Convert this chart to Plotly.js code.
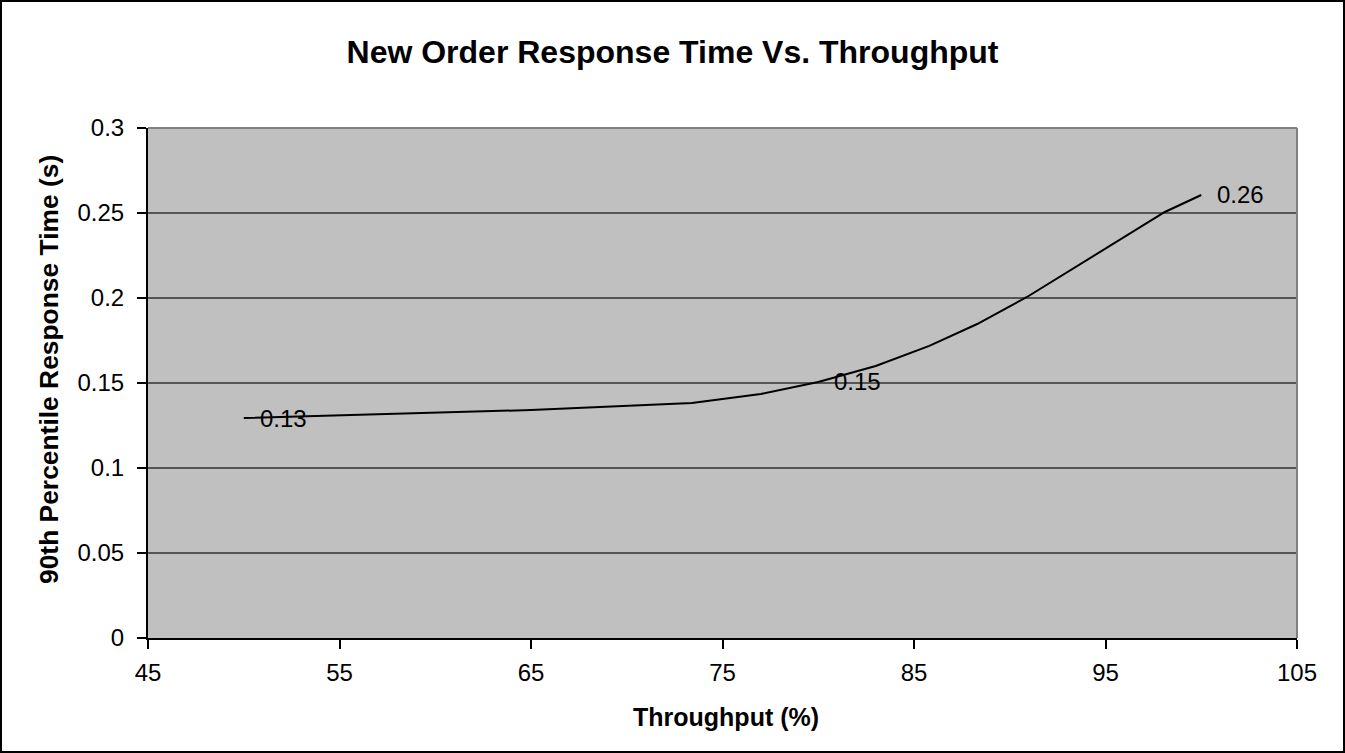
<!DOCTYPE html>
<html>
<head>
<meta charset="utf-8">
<script src="https://cdn.plot.ly/plotly-3.0.1.min.js"></script>
<style>
  html, body { margin: 0; padding: 0; background: #ffffff; }
  #chart { position: absolute; left: 0; top: 0; width: 1345px; height: 753px; }
  #frame { position: absolute; left: 0; top: 0; width: 1345px; height: 753px; box-sizing: border-box; border: 2px solid #000; pointer-events: none; }
</style>
</head>
<body>
<div id="chart"></div>
<div id="frame"></div>
<script>
// Data
const throughput = [50, 65, 73.4, 77, 80, 83, 85.8, 88.3, 90.9, 98.1, 100];
const responseTime = [0.1294, 0.1341, 0.1382, 0.1435, 0.1506, 0.160, 0.1718, 0.1847, 0.2006, 0.2506, 0.2606];
const labelThroughput = [50, 80, 100];
const labelResponse = [0.1294, 0.1506, 0.2606];
const labelTexts = ["0.13", "0.15", "0.26"];
const xTickVals = [45, 55, 65, 75, 85, 95, 105];
const yTickVals = [0, 0.05, 0.1, 0.15, 0.2, 0.25, 0.3];

const FONT = "Liberation Sans, Arial, sans-serif";
const PLOT = { l: 148, r: 48, t: 128, b: 115, W: 1345, H: 753 };
const plotW = PLOT.W - PLOT.l - PLOT.r;
const plotH = PLOT.H - PLOT.t - PLOT.b;

const trace = {
  x: throughput,
  y: responseTime,
  type: "scatter",
  mode: "lines",
  line: { color: "#000000", width: 2 },
  hoverinfo: "x+y",
  showlegend: false
};

const annotations = labelThroughput.map((x, i) => ({
  x: x, y: labelResponse[i], xref: "x", yref: "y",
  text: labelTexts[i], showarrow: false,
  xanchor: "left", yanchor: "middle", xshift: 14,
  font: { family: FONT, size: 24, color: "#000" }
}));

// Axis titles placed as annotations for exact positioning
annotations.push({
  xref: "paper", yref: "paper",
  x: (726 - PLOT.l) / plotW, y: -(717 - (PLOT.t + plotH)) / plotH,
  xanchor: "center", yanchor: "middle", showarrow: false,
  text: "<b>Throughput (%)</b>",
  font: { family: FONT, size: 25, color: "#000" }
});
annotations.push({
  xref: "paper", yref: "paper",
  x: -(PLOT.l - 49) / plotW, y: (PLOT.t + plotH - 370) / plotH,
  xanchor: "center", yanchor: "middle", showarrow: false, textangle: -90,
  text: "<b>90th Percentile Response Time (s)</b>",
  font: { family: FONT, size: 26.4, color: "#000" }
});

const layout = {
  width: 1345, height: 753,
  margin: { l: PLOT.l, r: PLOT.r, t: PLOT.t, b: PLOT.b },
  paper_bgcolor: "#ffffff",
  plot_bgcolor: "#c0c0c0",
  showlegend: false,
  title: {
    text: "<b>New Order Response Time Vs. Throughput</b>",
    font: { family: FONT, size: 32, color: "#000" },
    x: 0.5, xanchor: "center", xref: "container",
    y: 1 - 52 / 753, yanchor: "middle", yref: "container"
  },
  xaxis: {
    range: [45, 105],
    tickvals: xTickVals,
    ticktext: xTickVals.map(String),
    ticks: "outside", ticklen: 9, tickwidth: 1.5, tickcolor: "#000",
    ticklabelstandoff: 3,
    showline: true, linecolor: "#000", linewidth: 2,
    showgrid: false, zeroline: false,
    tickfont: { family: FONT, size: 24, color: "#000" }
  },
  yaxis: {
    range: [0, 0.3],
    tickvals: yTickVals,
    ticktext: yTickVals.map(String),
    ticks: "outside", ticklen: 9, tickwidth: 1.5, tickcolor: "#000",
    ticklabelstandoff: 8,
    showline: true, linecolor: "#000", linewidth: 2,
    showgrid: true, gridcolor: "#555555", gridwidth: 1.5,
    zeroline: false,
    tickfont: { family: FONT, size: 24, color: "#000" }
  },
  shapes: [
    { type: "line", xref: "paper", yref: "paper", x0: 0, x1: 1, y0: 1, y1: 1, line: { color: "#808080", width: 2 } },
    { type: "line", xref: "paper", yref: "paper", x0: 1, x1: 1, y0: 0, y1: 1, line: { color: "#808080", width: 2 } }
  ],
  annotations: annotations
};

Plotly.newPlot("chart", [trace], layout, { displayModeBar: false });
</script>
</body>
</html>
